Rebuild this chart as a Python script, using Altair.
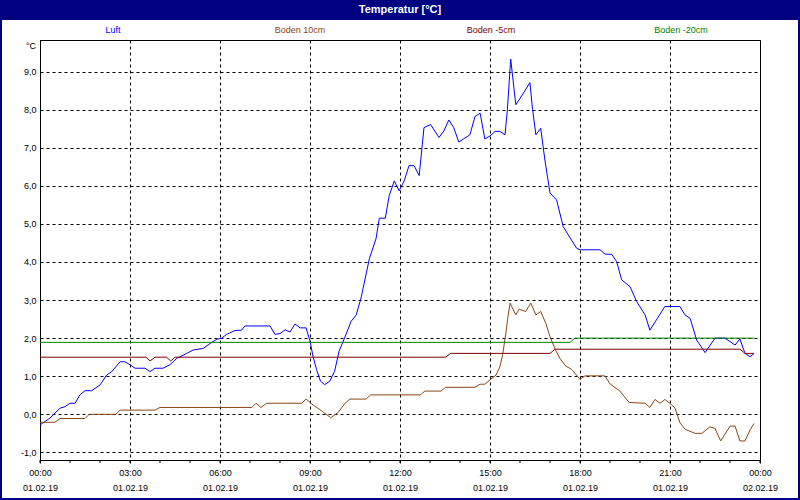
import altair as alt
import pandas as pd

# ---------------- data ----------------
series_names = ["Luft", "Boden 10cm", "Boden -5cm", "Boden -20cm"]
series_colors = ["#0000FF", "#8B4513", "#800000", "#008000"]

luft_h = [0, 0.33, 0.67, 0.83, 1.0, 1.17, 1.33, 1.5, 1.72, 2.0, 2.22, 2.39, 2.67, 2.83, 3.0, 3.17, 3.5, 3.67,
          3.83, 4.1, 4.33, 4.56, 4.89, 5.11, 5.44, 5.67, 5.89, 6.06, 6.22, 6.5, 6.72, 6.83, 7.67, 7.83, 8.0,
          8.17, 8.33, 8.5, 8.67, 8.87, 9.0, 9.1, 9.22, 9.35, 9.49, 9.66, 9.82, 9.97, 10.15, 10.37, 10.54,
          10.7, 10.98, 11.2, 11.31, 11.51, 11.64, 11.81, 11.97, 12.14, 12.30, 12.47, 12.64, 12.8, 13.02,
          13.3, 13.46, 13.63, 13.79, 13.96, 14.33, 14.5, 14.67, 14.83, 15.0, 15.17, 15.33, 15.5, 15.58,
          15.69, 15.86, 16.11, 16.33, 16.42, 16.53, 16.69, 16.83, 17.0, 17.22, 17.44, 17.61, 17.89, 18.0,
          18.67, 18.83, 19.06, 19.22, 19.39, 19.67, 19.89, 20.17, 20.33, 20.83, 21.33, 21.5, 21.67, 21.89,
          22.17, 22.5, 22.83, 23.17, 23.33, 23.5, 23.67, 23.8]
luft_v = [-0.28, -0.10, 0.16, 0.20, 0.29, 0.29, 0.51, 0.62, 0.62, 0.77, 1.03, 1.12, 1.38, 1.38, 1.30, 1.21,
          1.21, 1.12, 1.21, 1.21, 1.30, 1.47, 1.60, 1.69, 1.73, 1.86, 1.97, 2.00, 2.10, 2.20, 2.21, 2.32,
          2.32, 2.10, 2.12, 2.22, 2.16, 2.37, 2.27, 2.27, 1.92, 1.52, 1.17, 0.87, 0.78, 0.87, 1.13, 1.66,
          2.00, 2.44, 2.61, 3.05, 4.09, 4.61, 5.15, 5.15, 5.74, 6.13, 5.87, 6.13, 6.53, 6.53, 6.27, 7.53,
          7.61, 7.27, 7.44, 7.73, 7.53, 7.15, 7.34, 7.82, 7.91, 7.23, 7.31, 7.43, 7.43, 7.34, 8.00, 9.33,
          8.13, 8.43, 8.71, 8.00, 7.34, 7.51, 6.68, 5.81, 5.63, 4.93, 4.71, 4.36, 4.32, 4.32, 4.21, 4.20,
          4.01, 3.53, 3.35, 2.96, 2.61, 2.21, 2.83, 2.83, 2.61, 2.52, 1.95, 1.62, 2.00, 2.00, 1.82, 1.98,
          1.60, 1.51, 1.60]

b10_h = [0, 0.5, 0.67, 1.5, 1.64, 2.53, 2.67, 3.83, 4.0, 7.06, 7.2, 7.36, 7.56, 8.72, 8.87, 9.06, 9.39,
         9.69, 9.94, 10.17, 10.33, 10.87, 11.02, 12.67, 12.83, 13.37, 13.52, 14.5, 14.67, 14.83, 15.02,
         15.2, 15.33, 15.42, 15.53, 15.59, 15.67, 15.86, 15.97, 16.19, 16.36, 16.53, 16.69, 16.86, 17.0,
         17.17, 17.33, 17.52, 17.72, 18.0, 18.17, 18.83, 19.0, 19.33, 19.64, 20.17, 20.33, 20.5, 20.67,
         20.83, 21.0, 21.17, 21.33, 21.5, 21.83, 22.06, 22.33, 22.5, 22.69, 23.0, 23.17, 23.33, 23.5,
         23.67, 23.8]
b10_v = [-0.21, -0.21, -0.11, -0.11, 0.0, 0.0, 0.11, 0.11, 0.18, 0.18, 0.29, 0.18, 0.29, 0.29, 0.40, 0.27,
         0.09, -0.09, 0.05, 0.29, 0.40, 0.40, 0.51, 0.51, 0.61, 0.61, 0.71, 0.71, 0.79, 0.79, 0.92, 1.03,
         1.25, 1.56, 2.13, 2.52, 2.92, 2.61, 2.76, 2.70, 2.92, 2.61, 2.70, 2.39, 2.04, 1.71, 1.47, 1.27,
         1.18, 0.92, 1.01, 1.01, 0.80, 0.61, 0.31, 0.29, 0.18, 0.39, 0.29, 0.39, 0.29, 0.16, -0.22, -0.39,
         -0.50, -0.50, -0.33, -0.37, -0.70, -0.31, -0.31, -0.70, -0.70, -0.41, -0.24]

b5_h = [0, 3.53, 3.67, 3.83, 4.22, 4.36, 4.5, 13.52, 13.69, 17.0, 17.17, 23.33, 23.5, 23.8]
b5_v = [1.5, 1.5, 1.4, 1.5, 1.5, 1.4, 1.5, 1.5, 1.6, 1.6, 1.71, 1.71, 1.6, 1.6]

b20_h = [0, 17.67, 17.83, 23.8]
b20_v = [1.89, 1.89, 2.0, 2.0]

y_ticks = [-1, 0, 1, 2, 3, 4, 5, 6, 7, 8, 9]
y_labels = ["-1,0", "0,0", "1,0", "2,0", "3,0", "4,0", "5,0", "6,0", "7,0", "8,0", "9,0"]
x_ticks = [0, 3, 6, 9, 12, 15, 18, 21, 24]
x_time_labels = ["00:00", "03:00", "06:00", "09:00", "12:00", "15:00", "18:00", "21:00", "00:00"]
x_date_labels = ["01.02.19"] * 8 + ["02.02.19"]
minor_ticks = list(range(0, 25))

title_text = "Temperatur [°C]"
unit_text = "°C"

# ---------------- layout ----------------
W, H = 720, 420
PAD_L, PAD_T = 40, 40
FONT = "Liberation Sans"
legend_px = [73, 260, 451, 641]

rows = []
for name, hs, vs in zip(series_names, [luft_h, b10_h, b5_h, b20_h], [luft_v, b10_v, b5_v, b20_v]):
    for h, v in zip(hs, vs):
        rows.append({"series": name, "h": h, "v": v})
df = pd.DataFrame(rows)

color_scale = alt.Scale(domain=series_names, range=series_colors)
x_scale = alt.Scale(domain=[0, 24], nice=False, zero=False)
y_scale = alt.Scale(domain=[-1.2, 9.83], nice=False, zero=False)

y_expr = "[" + ",".join("'%s'" % s for s in y_labels) + "][datum.value + 1]"
x_expr = "[" + ",".join("['%s','%s']" % (t, d) for t, d in zip(x_time_labels, x_date_labels)) + "][datum.value / 3]"

one = pd.DataFrame({"a": [0]})

title_bar = alt.Chart(one).mark_rect(color="#000080").encode(
    x=alt.value(-PAD_L), x2=alt.value(W + 40), y=alt.value(-PAD_T), y2=alt.value(-20)
)
frame = alt.Chart(one).mark_rect(filled=False, stroke="#000080", strokeWidth=2).encode(
    x=alt.value(-PAD_L + 1), x2=alt.value(W + 39), y=alt.value(-PAD_T + 1), y2=alt.value(H + 39)
)
title = alt.Chart(one).mark_text(
    text=title_text, color="white", font=FONT, fontSize=11, fontWeight="bold", align="center", baseline="middle"
).encode(x=alt.value(360), y=alt.value(-30))

legend_df = pd.DataFrame({"series": series_names, "px": legend_px})
legend = alt.Chart(legend_df).mark_text(font=FONT, fontSize=9, align="center", baseline="middle").encode(
    x=alt.X("px:Q", scale=None), y=alt.value(-10), text="series:N",
    color=alt.Color("series:N", scale=color_scale, legend=None)
)
unit = alt.Chart(one).mark_text(
    text=unit_text, color="black", font=FONT, fontSize=9, align="right", baseline="middle"
).encode(x=alt.value(-4), y=alt.value(6))

lines = alt.Chart(df).mark_line(strokeWidth=1).encode(
    x=alt.X("h:Q", scale=x_scale, axis=alt.Axis(
        values=x_ticks, labelExpr=x_expr, grid=True, gridDash=[3, 3], gridColor="black", gridOpacity=1,
        ticks=True, tickSize=3, tickColor="black", domainColor="black", labelColor="black",
        labelFont=FONT, labelFontSize=9, labelPadding=5, labelLineHeight=15, title=None,
        labelFlush=False, labelOverlap=False)),
    y=alt.Y("v:Q", scale=y_scale, axis=alt.Axis(
        values=y_ticks, labelExpr=y_expr, grid=True, gridDash=[3, 3], gridColor="black", gridOpacity=1,
        ticks=False, tickSize=0, domainColor="black", labelColor="black", labelFont=FONT, labelFontSize=9,
        labelPadding=4, title=None, labelOverlap=False)),
    color=alt.Color("series:N", scale=color_scale, legend=None),
    order=alt.Order("h:Q"),
)

minor = alt.Chart(pd.DataFrame({"h": minor_ticks})).mark_rule(color="black", strokeWidth=1).encode(
    x=alt.X("h:Q", scale=x_scale), y=alt.value(H), y2=alt.value(H + 3)
)

chart = alt.layer(title_bar, frame, title, legend, unit, lines, minor).properties(
    width=W, height=H,
    autosize=alt.AutoSizeParams(type="none"),
    padding={"left": PAD_L, "top": PAD_T, "right": 40, "bottom": 40},
    background="white",
).configure_view(stroke="black", strokeWidth=1)

chart.save("out.html", embed_options={"renderer": "svg", "actions": False})
